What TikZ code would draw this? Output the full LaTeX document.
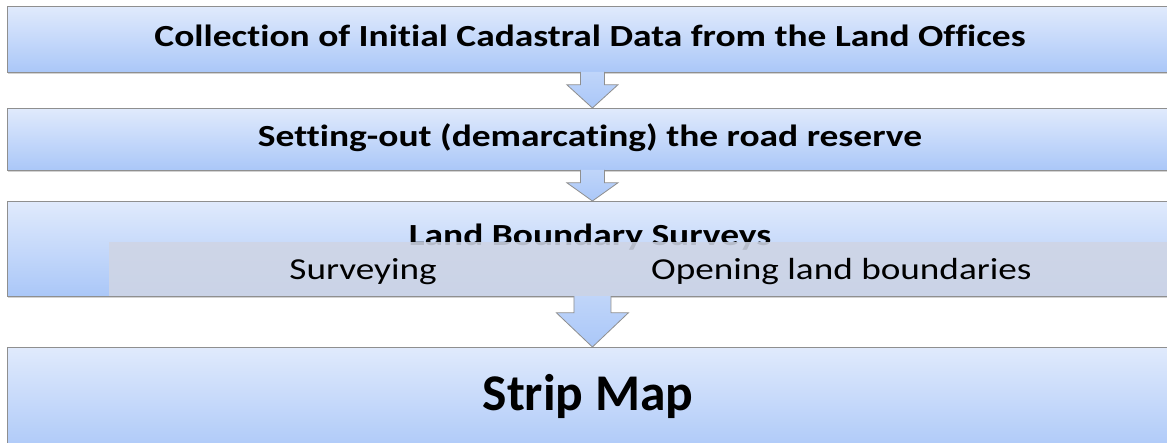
\documentclass[tikz,border=0pt]{standalone}
\usepackage{fontspec}
\setmainfont{Carlito}[Ligatures=NoCommon]
\newfontfamily\widefont[FakeStretch=1.22,Ligatures=NoCommon]{Carlito}
\usetikzlibrary{calc,shadows}

\definecolor{boxtop}{HTML}{E0EAFC}
\definecolor{boxbottom}{HTML}{AAC7F8}
\definecolor{stripgray}{HTML}{CFD5E5}
\definecolor{edgegray}{HTML}{8F8F8F}

\tikzset{
  stage/.style={draw=edgegray, line width=0.8pt, top color=boxtop, bottom color=boxbottom,
    anchor=north west, minimum width=1170pt, inner sep=0pt,
    drop shadow={opacity=0.35, shadow xshift=0.5pt, shadow yshift=-1.5pt}},
  downarrow/.style={draw=edgegray, line width=0.8pt, top color=boxtop!40!boxbottom, bottom color=boxbottom},
  steptitle/.style={anchor=base, inner sep=0pt, font=\widefont\fontsize{30.7}{36}\selectfont\bfseries},
  substep/.style={anchor=base, inner sep=0pt, text=black, font=\widefont\fontsize{30.5}{36}\selectfont},
}

% block arrow from the bottom of box #1 to the top of box #2
% #3 stem half width, #4 head half width, #5 stem length
\newcommand{\flowarrow}[5]{%
  \path[downarrow] let \p1=(#1.south), \p2=(#2.north) in
    (\x1-#3,\y1+1pt) -- (\x1-#3,\y1-#5) -- (\x1-#4,\y1-#5) -- (\x1,\y2)
    -- (\x1+#4,\y1-#5) -- (\x1+#3,\y1-#5) -- (\x1+#3,\y1+1pt);
}

\begin{document}
\begin{tikzpicture}[x=1pt,y=-1pt]
    \useasboundingbox (0,0) rectangle (1167,442);
    \clip (0,0) rectangle (1167,442);
    \fill[white] (0,0) rectangle (1167,442);

    % the four stages
    \node[stage, minimum height=66pt] (collect) at (7,6) {};
    \node[stage, minimum height=62pt] (setout) at (7,108) {};
    \node[stage, minimum height=95pt] (survey) at (7,201) {};
    \node[stage, minimum height=110pt] (stripmap) at (7,347) {};

    \flowarrow{collect}{setout}{12pt}{25.5pt}{12pt}
    \flowarrow{setout}{survey}{12pt}{25.5pt}{12pt}
    \flowarrow{survey}{stripmap}{18.5pt}{36pt}{16pt}

    \node[steptitle] (collecttext) at (590,46) {Collection of Initial Cadastral Data from the Land Offices};
    \node[steptitle] (setouttext) at (590,146) {Setting-out (demarcating) the road reserve};
    \node[steptitle] (surveytext) at (590,245) {Land Boundary Surveys};
    \node[anchor=base, inner sep=0pt, font=\fontsize{51.5}{60}\selectfont\bfseries] (stripmaptext) at (588,410) {Strip Map};

    % sub-steps of the boundary surveys
    \node[anchor=north west, minimum width=1070pt, minimum height=54pt, inner sep=0pt,
          fill=stripgray, fill opacity=0.88] (substeps) at (109,242) {};
    \node[substep] (surveying) at (363,279) {Surveying};
    \node[substep, anchor=base west] (opening) at (651,279) {Opening land boundaries};
\end{tikzpicture}
\end{document}
